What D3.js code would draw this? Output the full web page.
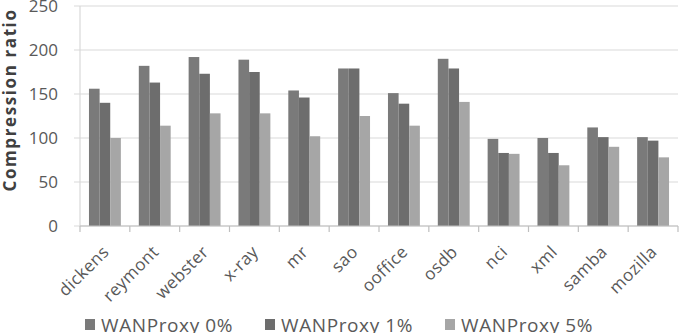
<!DOCTYPE html>
<html>
<head>
<meta charset="utf-8">
<script src="https://cdn.jsdelivr.net/npm/d3@7"></script>
<style>
  body { margin: 0; background: #fff; }
  text { font-family: "Open Sans", "Noto Sans", sans-serif; fill: #595959; }
</style>
</head>
<body>
<svg id="chart" width="684" height="333"></svg>
<script>
const categories = ["dickens", "reymont", "webster", "x-ray", "mr", "sao", "ooffice", "osdb", "nci", "xml", "samba", "mozilla"];
const seriesNames = ["WANProxy 0%", "WANProxy 1%", "WANProxy 5%"];
const proxy0 = [156, 182, 192, 189, 154, 179, 151, 190, 99, 100, 112, 101];
const proxy1 = [140, 163, 173, 175, 146, 179, 139, 179, 83, 83, 101, 97];
const proxy5 = [100, 114, 128, 128, 102, 125, 114, 141, 82, 69, 90, 78];
const yTicks = [0, 50, 100, 150, 200, 250];

const colors = ["#7a7a7a", "#6d6d6d", "#a6a6a6"];
const series = [proxy0, proxy1, proxy5];

const svg = d3.select("#chart");
const margin = { left: 80, right: 6, top: 6, bottom: 107 };
const width = 684 - margin.left - margin.right;
const height = 333 - margin.top - margin.bottom;

const g = svg.append("g").attr("transform", "translate(" + margin.left + "," + margin.top + ")");

const x = d3.scaleBand().domain(categories).range([0, width]).paddingInner(0.36).paddingOuter(0.18);
const x1 = d3.scaleBand().domain(d3.range(series.length)).range([0, x.bandwidth()]);
const y = d3.scaleLinear().domain([0, 250]).range([height, 0]);

// grid lines
g.append("g")
  .selectAll("line")
  .data(yTicks)
  .enter()
  .append("line")
  .attr("x1", -6)
  .attr("x2", width)
  .attr("y1", d => y(d))
  .attr("y2", d => y(d))
  .attr("stroke", "#d9d9d9")
  .attr("stroke-width", 1.2);

// y labels
g.append("g")
  .selectAll("text")
  .data(yTicks)
  .enter()
  .append("text")
  .attr("x", -22)
  .attr("y", d => y(d))
  .attr("dy", "0.36em")
  .attr("text-anchor", "end")
  .style("font-size", "17px")
  .text(d => d);

// bars
categories.forEach(function(cat, i) {
  g.append("g")
    .attr("transform", "translate(" + x(cat) + ",0)")
    .selectAll("rect")
    .data(series.map((s, k) => ({ k: k, v: s[i] })))
    .enter()
    .append("rect")
    .attr("x", d => x1(d.k))
    .attr("width", x1.bandwidth())
    .attr("y", d => y(d.v))
    .attr("height", d => height - y(d.v))
    .attr("fill", d => colors[d.k]);
});

// axes lines
g.append("line")
  .attr("x1", 0).attr("x2", 0)
  .attr("y1", 0).attr("y2", height)
  .attr("stroke", "#d9d9d9").attr("stroke-width", 1.2);
g.append("line")
  .attr("x1", 0).attr("x2", width)
  .attr("y1", height).attr("y2", height)
  .attr("stroke", "#bfbfbf").attr("stroke-width", 1.2);

// x ticks between categories
g.append("g")
  .selectAll("line")
  .data(d3.range(categories.length + 1))
  .enter()
  .append("line")
  .attr("x1", d => d * x.step())
  .attr("x2", d => d * x.step())
  .attr("y1", height)
  .attr("y2", height + 6)
  .attr("stroke", "#bfbfbf")
  .attr("stroke-width", 1.2);

// x labels
g.append("g")
  .selectAll("text")
  .data(categories)
  .enter()
  .append("text")
  .attr("text-anchor", "end")
  .attr("transform", d => "translate(" + (x(d) + x.bandwidth() / 2 + 5) + "," + (height + 27) + ") rotate(-45)")
  .style("font-size", "17px")
  .style("letter-spacing", "0.4px")
  .text(d => d);

// y title
svg.append("text")
  .attr("transform", "translate(16,100) rotate(-90)")
  .attr("text-anchor", "middle")
  .style("font-size", "17px")
  .style("font-weight", "bold")
  .style("letter-spacing", "1.6px")
  .style("fill", "#404040")
  .text("Compression ratio");

// legend
const legendX = [85, 265, 445];
const legend = svg.append("g")
  .selectAll("g")
  .data(seriesNames)
  .enter()
  .append("g")
  .attr("transform", (d, i) => "translate(" + legendX[i] + ",319)");
legend.append("rect")
  .attr("width", 10)
  .attr("height", 11)
  .attr("fill", (d, i) => colors[i]);
legend.append("text")
  .attr("x", 16)
  .attr("y", 13)
  .style("font-size", "19px")
  .style("letter-spacing", "0.6px")
  .text(d => d);
</script>
</body>
</html>
